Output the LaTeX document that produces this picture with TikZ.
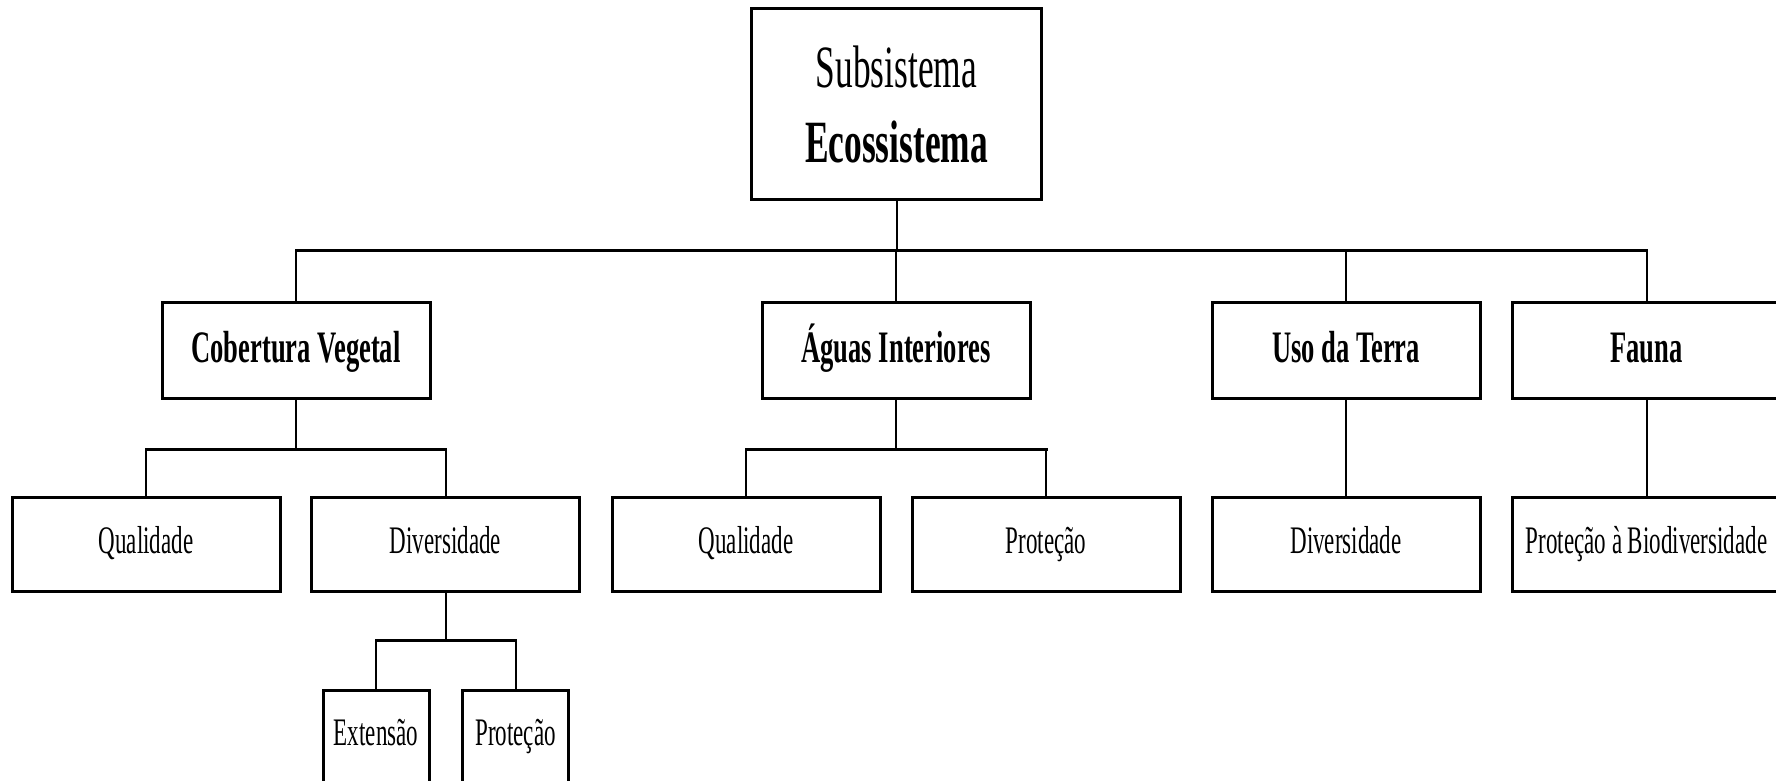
\documentclass[tikz,border=0pt]{standalone}
\usepackage{fontspec}
\setmainfont{Liberation Serif}[FakeStretch=0.59]
\begin{document}
\begin{tikzpicture}[x=1pt,y=-1pt,
  box/.style={draw, line width=3pt, inner sep=0pt, minimum width=268pt,
    minimum height=94pt, text height=27pt, text depth=9pt,
    font=\fontsize{39}{47}\selectfont},
  headbox/.style={box, minimum height=96pt, text height=33pt, text depth=9pt,
    font=\fontsize{45}{54}\selectfont\bfseries},
  smallbox/.style={box, minimum width=106pt, minimum height=96pt,
    text height=27pt, text depth=13pt},
  topbox/.style={draw, line width=3pt, inner sep=0pt, minimum width=290pt,
    minimum height=190pt, align=center, font=\fontsize{60}{75}\selectfont},
  vline/.style={line width=2pt},
  hline/.style={line width=3pt, line cap=rect}]
\useasboundingbox (0,0) rectangle (1776,781);
\clip (0,0) rectangle (1776,781);
\fill[white] (0,0) rectangle (1776,781);

% root
\node[topbox] (top) at (896.5,104) {Subsistema\\\textbf{Ecossistema}};

% second level
\node[headbox] (cv) at (296,350)    {Cobertura Vegetal};
\node[headbox] (ai) at (896,350)    {Águas Interiores};
\node[headbox] (ut) at (1346,350)   {Uso da Terra};
\node[headbox] (fa) at (1646.5,350) {Fauna};

% third level
\node[box] (cvq) at (146,544)    {Qualidade};
\node[box] (cvd) at (445.5,544)  {Diversidade};
\node[box] (aiq) at (746,544)    {Qualidade};
\node[box] (aip) at (1046,544)   {Proteção};
\node[box] (utd) at (1346,544)   {Diversidade};
\node[box] (fap) at (1646.5,544) {Proteção à Biodiversidade};

% fourth level
\node[smallbox] (ext) at (376,738)   {Extensão};
\node[smallbox] (pro) at (515.5,738) {Proteção};

% bus heights
\coordinate (bus) at (0,250);
\coordinate (cvbus) at (0,449);
\coordinate (aibus) at (0,449);
\coordinate (dvbus) at (0,640);

% root to second level
\draw[vline] (top.south) -- (top.south |- bus);
\draw[hline] (cv.north |- bus) -- (fa.north |- bus);
\foreach \n in {cv,ai,ut,fa}
  \draw[vline] (\n.north |- bus) -- (\n.north);

% Cobertura Vegetal
\draw[vline] (cv.south) -- (cv.south |- cvbus);
\draw[hline] (cvq.north |- cvbus) -- (cvd.north |- cvbus);
\draw[vline] (cvq.north |- cvbus) -- (cvq.north);
\draw[vline] (cvd.north |- cvbus) -- (cvd.north);

% Águas Interiores
\draw[vline] (ai.south) -- (ai.south |- aibus);
\draw[hline] (aiq.north |- aibus) -- (aip.north |- aibus);
\draw[vline] (aiq.north |- aibus) -- (aiq.north);
\draw[vline] (aip.north |- aibus) -- (aip.north);

% Uso da Terra and Fauna
\draw[vline] (ut.south) -- (utd.north);
\draw[vline] (fa.south) -- (fap.north);

% Diversidade
\draw[vline] (cvd.south) -- (cvd.south |- dvbus);
\draw[hline] (ext.north |- dvbus) -- (pro.north |- dvbus);
\draw[vline] (ext.north |- dvbus) -- (ext.north);
\draw[vline] (pro.north |- dvbus) -- (pro.north);
\end{tikzpicture}
\end{document}
